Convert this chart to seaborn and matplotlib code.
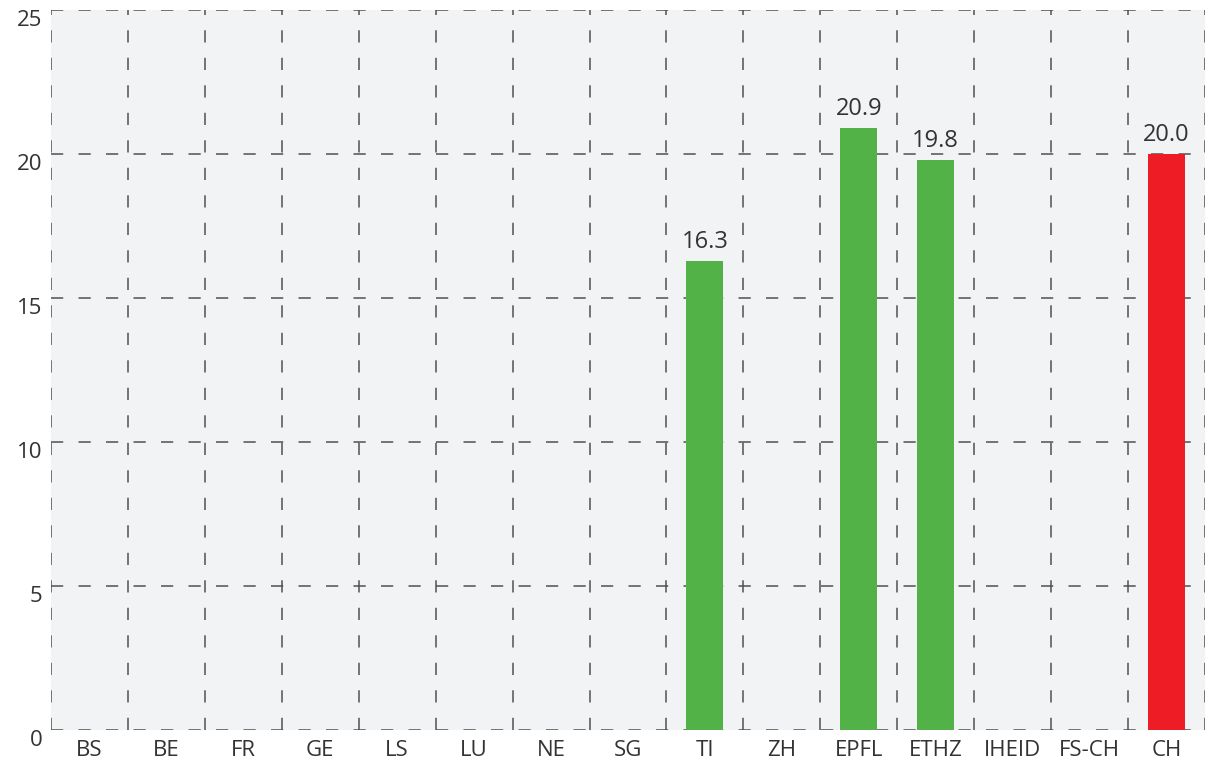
import pandas as pd
import numpy as np
import matplotlib.pyplot as plt
import seaborn as sns

# Données
categories = ['BS', 'BE', 'FR', 'GE', 'LS', 'LU', 'NE', 'SG', 'TI', 'ZH',
              'EPFL', 'ETHZ', 'IHEID', 'FS-CH', 'CH']
values = [0, 0, 0, 0, 0, 0, 0, 0, 16.3, 0, 20.9, 19.8, 0, 0, 20.0]
bar_colors = ['#a8d8e8'] * 8 + ['#52b147', '#a8d8e8', '#52b147', '#52b147',
                                 '#a8d8e8', '#a8d8e8', '#ee1c25']
y_ticks = [0, 5, 10, 15, 20, 25]

df = pd.DataFrame({'cat': categories, 'val': values})

sns.set_style('white')
plt.rcParams['font.family'] = ['Open Sans', 'DejaVu Sans']

fig = plt.figure(figsize=(12.05, 7.69), dpi=100)
ax = fig.add_axes([0.0423, 0.0507, 0.9577, 0.9363])
ax.set_facecolor('#f2f3f5')

sns.barplot(data=df, x='cat', y='val', hue='cat', palette=bar_colors,
            legend=False, width=0.48, ax=ax, saturation=1, linewidth=0)

ax.set_xlim(-0.5, len(categories) - 0.5)
ax.set_ylim(0, 25)
ax.set_yticks(y_ticks)
ax.set_yticklabels([str(t) for t in y_ticks])
ax.set_xticks(range(len(categories)))
ax.set_xticklabels(categories)
ax.set_xticks(np.arange(-0.5, len(categories), 1), minor=True)

grid_style = dict(color='#505050', linewidth=1.1, linestyle=(0, (8, 10)))
ax.grid(which='minor', axis='x', **grid_style)
ax.grid(which='major', axis='y', **grid_style)
ax.grid(which='major', axis='x', visible=False)
ax.set_axisbelow(True)

for s in ax.spines.values():
    s.set_visible(False)

ax.tick_params(axis='both', which='both', length=0, labelsize=16, colors='#333333')
ax.tick_params(axis='x', pad=7)
ax.tick_params(axis='y', pad=6)
for lbl in ax.get_yticklabels():
    lbl.set_verticalalignment('top')

ax.set_xlabel('')
ax.set_ylabel('')

for i, v in enumerate(values):
    if v > 0:
        ax.annotate(f'{v:.1f}', (i, v), xytext=(0, 5), textcoords='offset points',
                    ha='center', va='bottom', fontsize=17, color='#333333')

plt.savefig('out.png', dpi=100)
plt.close()
